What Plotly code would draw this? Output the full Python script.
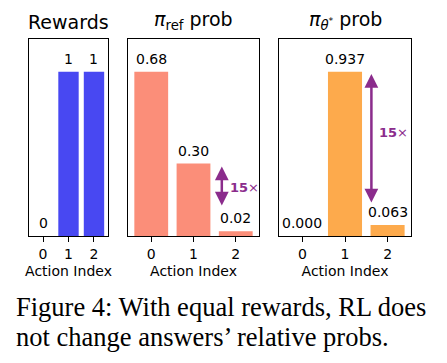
import plotly.graph_objects as go

actions = [0, 1, 2]
rewards = [0, 1, 1]
ref_prob = [0.68, 0.30, 0.02]
theta_prob = [0.000, 0.937, 0.063]
titles = ["Rewards", "<i>π</i><sub>ref</sub> prob", "<i>π</i><sub><i>θ</i><sup>*</sup></sub> prob"]
fmts = ["{:d}", "{:.2f}", "{:.3f}"]
colors = ["#4848F2", "#FB8E79", "#FDAA4C"]
purple = "#8B2C8C"
ratio_value = "15"
caption = ["Figure 4: With equal rewards, RL does", "not change answers’ relative probs."]

series = [rewards, ref_prob, theta_prob]
OFF = 8.0  # default page body margin
W = 447.0 - OFF
H = 363.0 - OFF


def px(x):
    return (x - OFF) / W


def py(y):
    return 1 - (y - OFF) / H


ydom = [py(236), py(39)]
xdoms = [[px(29), px(108)], [px(128), px(259)], [px(279), px(411)]]

fig = go.Figure()
FONT = "DejaVu Sans"
for k, vals in enumerate(series):
    xa = "x" if k == 0 else f"x{k+1}"
    ya = "y" if k == 0 else f"y{k+1}"
    fig.add_trace(go.Bar(x=actions, y=vals, marker_color=colors[k], marker_line_width=0,
                         width=0.8, xaxis=xa, yaxis=ya, showlegend=False, hoverinfo="skip"))
    axk = "" if k == 0 else str(k + 1)
    fig.update_layout(**{
        f"xaxis{axk}": dict(domain=xdoms[k], range=[-0.55, 2.55], tickvals=actions,
                            ticks="outside", ticklen=5, tickwidth=1.2, tickcolor="black",
                            showline=True, linecolor="black", linewidth=1.2, mirror=True,
                            showgrid=False, zeroline=False, fixedrange=True,
                            anchor=ya,
                            tickfont=dict(family=FONT, size=14, color="black"),
                            title=dict(text="Action Index", standoff=5,
                                       font=dict(family=FONT, size=14, color="black"))),
        f"yaxis{axk}": dict(domain=ydom, range=[0, max(vals) * 1.2], showticklabels=False,
                            ticks="", showline=True, linecolor="black", linewidth=1.2,
                            mirror=True, showgrid=False, zeroline=False,
                            anchor=xa),
    })
    for i, v in zip(actions, vals):
        fig.add_annotation(x=i, y=v, xref=xa, yref=ya, text=fmts[k].format(v),
                           showarrow=False, yanchor="bottom", yshift=3, xanchor="center",
                           font=dict(family=FONT, size=14, color="black"))
    cx = (xdoms[k][0] + xdoms[k][1]) / 2
    fig.add_annotation(x=cx, y=ydom[1], xref="paper", yref="paper", text=titles[k],
                       showarrow=False, yanchor="bottom", xanchor="center", yshift=4,
                       font=dict(family=FONT, size=19, color="black"))

# double-headed ratio arrows
arrows = [
    (1, 1.67, ref_prob[1] - 0.012, ref_prob[2] + 0.10, 0.20),
    (2, 1.62, theta_prob[1] - 0.012, theta_prob[2] + 0.12, 0.59),
]
for k, xpos, ytop, ybot, ylab in arrows:
    xa = f"x{k+1}"
    ya = f"y{k+1}"
    fig.add_annotation(x=xpos, y=ytop, ax=xpos, ay=ybot, xref=xa, yref=ya,
                       axref=xa, ayref=ya, text="", showarrow=True,
                       arrowhead=2, startarrowhead=2, arrowside="end+start",
                       arrowsize=1.1, startarrowsize=1.1, arrowwidth=2.5,
                       arrowcolor=purple, standoff=0, startstandoff=0)
    fig.add_annotation(x=xpos, y=ylab, xref=xa, yref=ya, text=f"<b>{ratio_value}</b>×",
                       showarrow=False, xanchor="left", xshift=6,
                       font=dict(family=FONT, size=13, color=purple))

for j, line in enumerate(caption):
    fig.add_annotation(x=px(14), y=py(307 + 30 * j), xref="paper", yref="paper",
                       text=line, showarrow=False, xanchor="left", yanchor="middle",
                       font=dict(family="Liberation Serif", size=26.5, color="black"))

fig.update_layout(width=int(W), height=int(H), margin=dict(l=0, r=0, t=0, b=0),
                  paper_bgcolor="white", plot_bgcolor="white", bargap=0.2)
fig.write_html("out.html")
